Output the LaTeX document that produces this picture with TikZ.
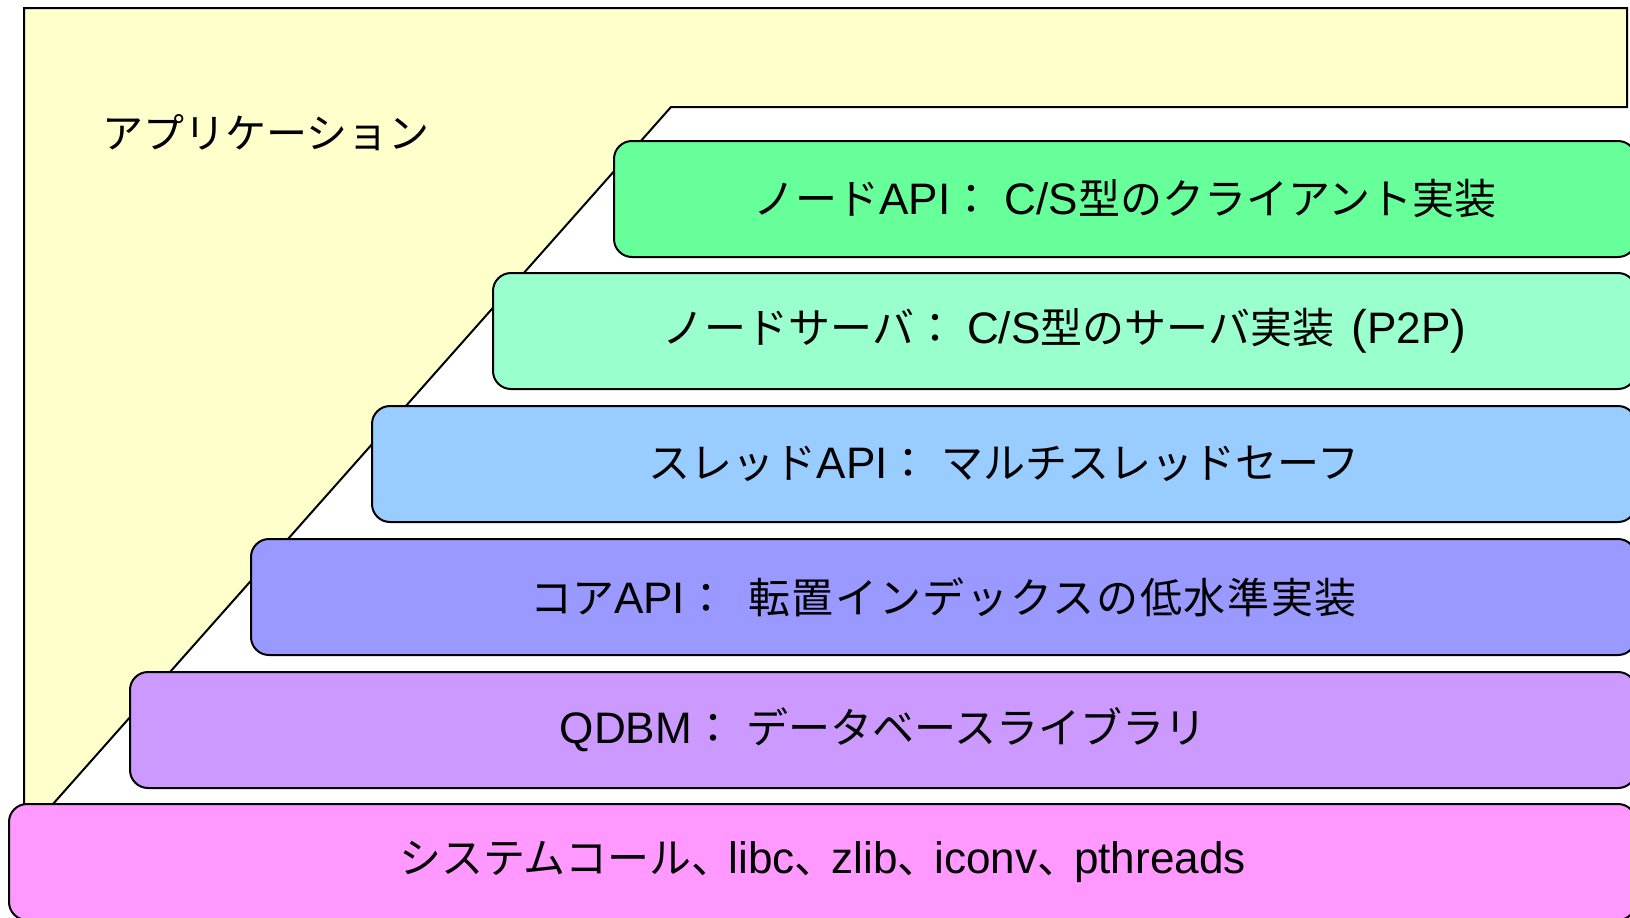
\documentclass[tikz,border=0pt]{standalone}
\usepackage{fontspec}
\setmainfont{Liberation Sans}[Scale=1.05]
\newfontfamily\jpfont{Noto Sans CJK JP}
\newcommand\jpf[1]{{\jpfont #1}}
\newcommand\jcomma{{\jpfont 、}\hspace{-0.12em}}
\definecolor{appyellow}{HTML}{FFFFCC}
\definecolor{layA}{HTML}{66FF99}
\definecolor{layB}{HTML}{99FFCC}
\definecolor{layC}{HTML}{99CCFF}
\definecolor{layD}{HTML}{9999FF}
\definecolor{layE}{HTML}{CC99FF}
\definecolor{layF}{HTML}{FF99FF}
\begin{document}
\begin{tikzpicture}[x=0.5pt,y=-0.5pt,
  layerbox/.style={draw=black, line width=1pt, rounded corners=9pt, anchor=north west,
    minimum height=58pt, inner sep=0pt, outer sep=0pt,
    font=\fontsize{21pt}{25pt}\selectfont},
  apptext/.style={anchor=west, inner sep=0pt, font=\fontsize{20.5pt}{24pt}\selectfont\jpfont}]
\useasboundingbox (0,0) rectangle (1630,917);
\fill[white] (0,0) rectangle (1630,917);
% application area
\draw[fill=appyellow, line width=1pt] (24,8) -- (1627,8) -- (1627,107) -- (671,107) -- (53,804) -- (24,804) -- cycle;
\node[apptext] (app) at (102,133) {アプリケーション};
% layers
\node[layerbox, fill=layA, minimum width=511pt] (nodeapi) at (614,141)
  {\jpf{ノード}API\jpf{：} C/S\jpf{型のクライアント実装}};
\node[layerbox, fill=layB, minimum width=571.5pt] (nodeserver) at (493,273)
  {\jpf{ノードサーバ：}\hspace{0.25em}C/S\jpf{型のサーバ実装}\hspace{0.4em}{\fontsize{22.5pt}{25pt}\selectfont(}P2P{\fontsize{22.5pt}{25pt}\selectfont)}};
\node[layerbox, fill=layC, minimum width=632pt] (threadapi) at (372,406)
  {\jpf{スレッド}API\jpf{：} \jpf{マルチスレッドセーフ}};
\node[layerbox, fill=layD, minimum width=692.5pt] (coreapi) at (251,539)
  {\jpf{コア}API\jpf{：}\hspace{0.2em} {\jpfont\addfontfeatures{LetterSpace=4}転置インデックスの低水準実装}};
\node[layerbox, fill=layE, minimum width=753pt] (qdbm) at (130,672)
  {QDBM\jpf{：} \jpf{データベースライブラリ}};
\node[layerbox, fill=layF, minimum width=813.5pt] (sys) at (9,804)
  {\jpf{システムコール}\jcomma libc\jcomma zlib\jcomma iconv\jcomma pthreads};
\end{tikzpicture}
\end{document}
